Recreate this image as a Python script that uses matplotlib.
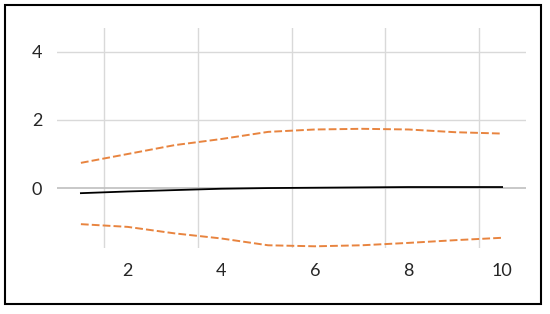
import matplotlib
matplotlib.use("Agg")
import matplotlib.pyplot as plt
from matplotlib.patches import Rectangle

periods = [1, 2, 3, 4, 5, 6, 7, 8, 9, 10]
response = [-0.15, -0.10, -0.06, -0.02, 0.00, 0.01, 0.02, 0.03, 0.03, 0.03]
upper = [0.74, 1.00, 1.26, 1.44, 1.65, 1.72, 1.74, 1.72, 1.64, 1.60]
lower = [-1.06, -1.14, -1.33, -1.48, -1.68, -1.71, -1.68, -1.61, -1.53, -1.46]
xticks = [2, 4, 6, 8, 10]
yticks = [0, 2, 4]

plt.rcParams['font.family'] = ['Lato', 'DejaVu Sans']

fig = plt.figure(figsize=(5.5, 3.14), dpi=100)
W, H = 550, 314
left, right, top, bottom = 57.5, 525.5, 28, 248
ax = fig.add_axes([left / W, 1 - bottom / H, (right - left) / W, (bottom - top) / H])

ax.set_xlim(0.5, 10.5)
ax.set_ylim(-1.76, 4.7)

for x in [1.5, 3.5, 5.5, 7.5, 9.5]:
    ax.axvline(x, color='#d9d9d9', lw=1, zorder=0)
for y in [2, 4]:
    ax.axhline(y, color='#d9d9d9', lw=1, zorder=0)
ax.axhline(0, color='#bfbfbf', lw=1.2, zorder=0)

ax.plot(periods, upper, color='#E8843F', lw=1.4, ls=(0, (4, 1.6)))
ax.plot(periods, lower, color='#E8843F', lw=1.4, ls=(0, (4, 1.6)))
ax.plot(periods, response, color='black', lw=1.3)

ax.set_xticks(xticks)
ax.set_xticklabels([str(t) for t in xticks])
ax.set_yticks(yticks)
ax.set_yticklabels([str(t) for t in yticks])
ax.tick_params(axis='x', length=0, pad=11, labelsize=13, colors='#262626')
ax.tick_params(axis='y', length=0, pad=11, labelsize=13, colors='#262626')
for s in ax.spines.values():
    s.set_visible(False)

fig.patches.append(Rectangle((5 / W, 1 - 304 / H), 536 / W, 299 / H,
                             transform=fig.transFigure, fill=False,
                             edgecolor='black', lw=1.5))

fig.savefig('out.png', dpi=100)
